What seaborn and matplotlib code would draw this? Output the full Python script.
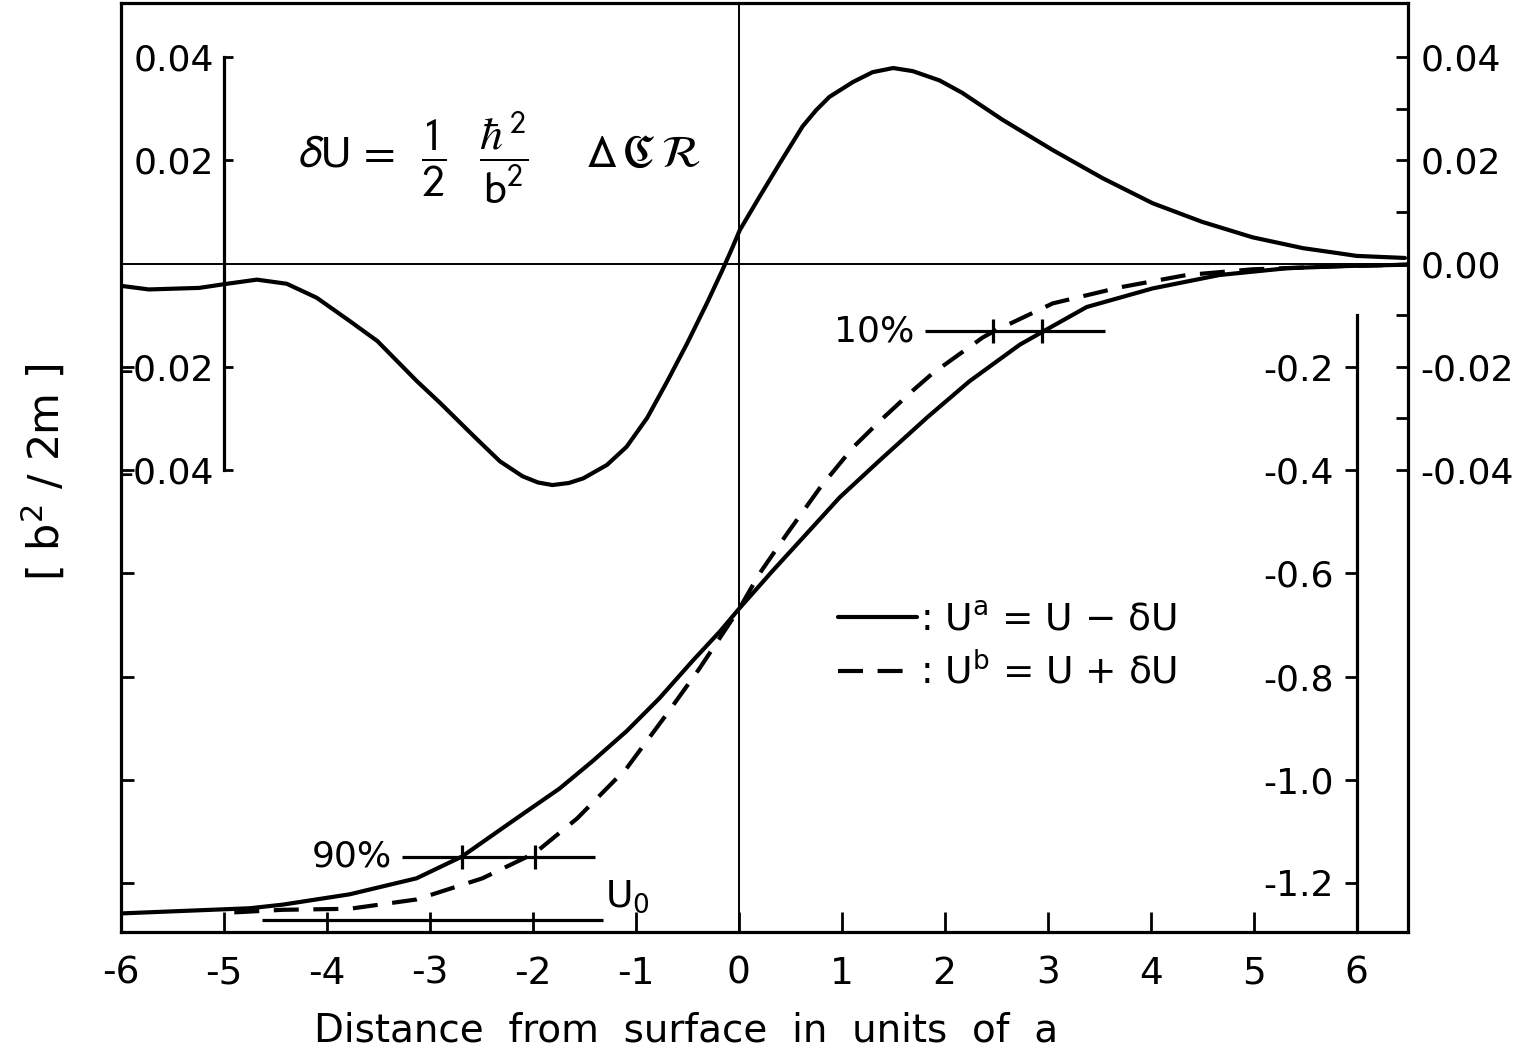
import matplotlib
matplotlib.use("Agg")
import matplotlib.pyplot as plt
import seaborn as sns

# ---------------- data ----------------
# delta U curve (main axis units)
du_x = [-6.00, -5.73, -5.24, -4.97, -4.68, -4.39, -4.10, -3.78, -3.51, -3.13, -2.90,
        -2.58, -2.32, -2.10, -1.95, -1.81, -1.65, -1.51, -1.28, -1.09, -0.89, -0.70,
        -0.50, -0.31, -0.16, -0.06, 0.01, 0.20, 0.40, 0.62, 0.75, 0.88, 1.11, 1.30, 1.50,
        1.69, 1.95, 2.17, 2.56, 3.05, 3.53, 4.02, 4.50, 4.99, 5.48, 5.83, 6.00, 6.47]
du_y = [-0.0043, -0.0050, -0.0047, -0.0039, -0.0031, -0.0039, -0.0066, -0.0111, -0.0150,
        -0.0227, -0.0270, -0.0333, -0.0383, -0.0412, -0.0424, -0.0429, -0.0425, -0.0416,
        -0.0390, -0.0355, -0.0299, -0.0230, -0.0154, -0.0077, -0.0013, 0.0032, 0.0065,
        0.0129, 0.0195, 0.0266, 0.0297, 0.0323, 0.0352, 0.0371, 0.0379, 0.0373, 0.0355,
        0.0331, 0.0279, 0.0220, 0.0166, 0.0117, 0.0081, 0.0051, 0.0030, 0.0020, 0.0015,
        0.0011]

# U^a = U - dU (solid), U units
ua_x = [-6.00, -4.75, -4.43, -3.78, -3.13, -2.69, -2.16, -1.74, -1.42, -1.09, -0.77,
        -0.45, -0.18, 0.01, 0.33, 0.66, 0.98, 1.37, 1.83, 2.24, 2.73, 2.96, 3.38, 4.02,
        4.67, 5.32, 5.83, 6.50]
ua_y = [-1.259, -1.249, -1.242, -1.222, -1.191, -1.149, -1.075, -1.017, -0.964, -0.906,
        -0.842, -0.770, -0.712, -0.667, -0.595, -0.523, -0.453, -0.381, -0.298, -0.228,
        -0.157, -0.131, -0.084, -0.048, -0.022, -0.009, -0.005, -0.002]

# U^b = U + dU (dashed), U units
ub_x = [-4.90, -4.43, -3.78, -3.13, -2.49, -1.98, -1.57, -1.09, -0.70, -0.38, -0.16,
        0.01, 0.20, 0.47, 0.79, 1.11, 1.37, 1.69, 1.88, 2.37, 2.48, 3.05, 3.70, 4.35,
        4.99, 5.83, 6.50]
ub_y = [-1.257, -1.252, -1.250, -1.232, -1.191, -1.142, -1.075, -0.978, -0.873, -0.784,
        -0.718, -0.667, -0.601, -0.523, -0.434, -0.356, -0.305, -0.246, -0.213, -0.143,
        -0.131, -0.077, -0.046, -0.022, -0.011, -0.005, -0.002]

# 10 % / 90 % markers and U0 level (U units)
pct_labels = ["10%", "90%"]
pct_levels = [-0.131, -1.149]
pct_span_start = [1.81, -3.27]
pct_span_end = [3.56, -1.40]
pct_cross_x = [[2.47, 2.95], [-2.69, -1.98]]
u0_level = -1.271
u0_span = [-4.63, -1.32]

# axes ticks
x_ticks = [-6, -5, -4, -3, -2, -1, 0, 1, 2, 3, 4, 5, 6]
x_tick_labels = ["-6", "-5", "-4", "-3", "-2", "-1", "0", "1", "2", "3", "4", "5", "6"]
right_ticks = [0.04, 0.02, 0.00, -0.02, -0.04]
right_labels = ["0.04", "0.02", "0.00", "-0.02", "-0.04"]
right_minor = [0.03, 0.01, -0.01, -0.03]
left_frame_ticks = [-0.02, -0.04, -0.06, -0.08, -0.10, -0.12]
du_inner_ticks = [0.04, 0.02, -0.02, -0.04]
du_inner_labels = ["0.04", "0.02", "-0.02", "-0.04"]
u_ticks = [-0.2, -0.4, -0.6, -0.8, -1.0, -1.2]
u_labels = ["-0.2", "-0.4", "-0.6", "-0.8", "-1.0", "-1.2"]

# ---------------- style ----------------
sns.set_theme(style="ticks")
plt.rcParams["font.family"] = ["DejaVu Sans"]
plt.rcParams["axes.edgecolor"] = "black"
plt.rcParams["xtick.color"] = "black"
plt.rcParams["ytick.color"] = "black"
plt.rcParams["text.color"] = "black"
plt.rcParams["axes.labelcolor"] = "black"

FS = 26
LW_CURVE = 3.0
LW_FRAME = 2.3

fig = plt.figure(figsize=(15.36, 10.54), dpi=100)
fig.patch.set_facecolor("white")
ax = fig.add_axes([121 / 1536, 1 - 932 / 1054, 1287 / 1536, 929 / 1054])
XLIM = (-6.0, 6.5)
YLIM = (-0.1295, 0.0505)
ax.set_xlim(*XLIM)
ax.set_ylim(*YLIM)
ax.set_facecolor("none")
for s in ax.spines.values():
    s.set_linewidth(LW_FRAME)
    s.set_color("black")

ax.set_xticks(x_ticks)
ax.set_xticklabels(x_tick_labels, fontsize=FS + 1)
ax.tick_params(axis="x", direction="in", length=14.5, width=2, pad=17, top=False)
ax.set_yticks(left_frame_ticks)
ax.set_yticklabels([])
ax.tick_params(axis="y", direction="in", length=9, width=2, left=True, right=False)

# zero lines
ax.axhline(0, color="black", lw=1.4, zorder=1)
ax.axvline(0, color="black", lw=1.4, zorder=1)

# delta U curve
sns.lineplot(x=du_x, y=du_y, ax=ax, color="black", lw=LW_CURVE, estimator=None, sort=False)

# right frame axis
axR = ax.twinx()
axR.set_ylim(*YLIM)
axR.set_yticks(right_ticks)
axR.set_yticklabels(right_labels, fontsize=FS)
axR.set_yticks(right_minor, minor=True)
axR.tick_params(axis="y", which="both", direction="in", length=9, width=2, pad=9)
for s in axR.spines.values():
    s.set_visible(False)

# inner delta U axis at x = -5
axL = ax.twinx()
axL.set_ylim(*YLIM)
for k, s in axL.spines.items():
    s.set_visible(k == "left")
axL.spines["left"].set_position(("data", -5))
axL.spines["left"].set_bounds(-0.04, 0.04)
axL.spines["left"].set_linewidth(LW_FRAME)
axL.yaxis.tick_left()
axL.yaxis.set_label_position("left")
axL.set_yticks(du_inner_ticks)
axL.set_yticklabels(du_inner_labels, fontsize=FS)
axL.tick_params(axis="y", direction="in", length=6.5, width=2, pad=7)

# U axis at x = 6
axU = ax.twinx()
axU.set_ylim(YLIM[0] * 10, YLIM[1] * 10)
for k, s in axU.spines.items():
    s.set_visible(k == "left")
axU.spines["left"].set_position(("data", 6))
axU.spines["left"].set_bounds(YLIM[0] * 10, -0.1)
axU.spines["left"].set_linewidth(LW_FRAME)
axU.yaxis.tick_left()
axU.set_yticks(u_ticks)
axU.set_yticklabels(u_labels, fontsize=FS)
axU.tick_params(axis="y", direction="out", length=8.5, width=2, pad=8)

sns.lineplot(x=ua_x, y=ua_y, ax=axU, color="black", lw=LW_CURVE, estimator=None,
             sort=False, label=": U$^{\\mathrm{a}}$ = U \u2212 \u03b4U")
sns.lineplot(x=ub_x, y=ub_y, ax=axU, color="black", lw=LW_CURVE, estimator=None,
             sort=False, linestyle=(0, (6, 3.5)), label=": U$^{\\mathrm{b}}$ = U + \u03b4U")

# 10 % / 90 % level markers
for lab, lev, x0, x1, cx in zip(pct_labels, pct_levels, pct_span_start, pct_span_end, pct_cross_x):
    axU.hlines(lev, x0, x1, color="black", lw=2.3)
    axU.plot(cx, [lev] * len(cx), ls="", marker="|", markersize=17, mew=2.3, color="black")
    axU.text(x0 - 0.1, lev, lab, fontsize=FS, ha="right", va="center")

axU.hlines(u0_level, u0_span[0], u0_span[1], color="black", lw=2.3)
axU.text(u0_span[1] + 0.02, u0_level + 0.045, "U$_{0}$", fontsize=FS + 1, ha="left", va="center")

leg = axU.legend(loc="upper left", bbox_to_anchor=(0.557, 0.355), frameon=False,
                 fontsize=FS + 1, handlelength=2.1, handletextpad=0.1, labelspacing=0.4,
                 borderpad=0, borderaxespad=0)

# formula
ax.text(-4.28, 0.0205,
        r"$\delta\mathrm{U}\,=\;\;\dfrac{1}{2}\;\;\;\dfrac{\hbar^{2}}{\mathrm{b}^{2}}\quad\;\;\Delta\,\mathfrak{C}\,\mathcal{R}$",
        fontsize=33, ha="left", va="center", math_fontfamily="stixsans")

# axis labels
fig.text(686 / 1536, 1 - 1030 / 1054, "Distance  from  surface  in  units  of  a",
         fontsize=28, ha="center", va="center")
fig.text(45 / 1536, 1 - 472 / 1054, "[ b$^{2}$ / 2m ]", rotation=90, fontsize=31,
         ha="center", va="center")

fig.savefig("out.png", dpi=100, facecolor="white")
